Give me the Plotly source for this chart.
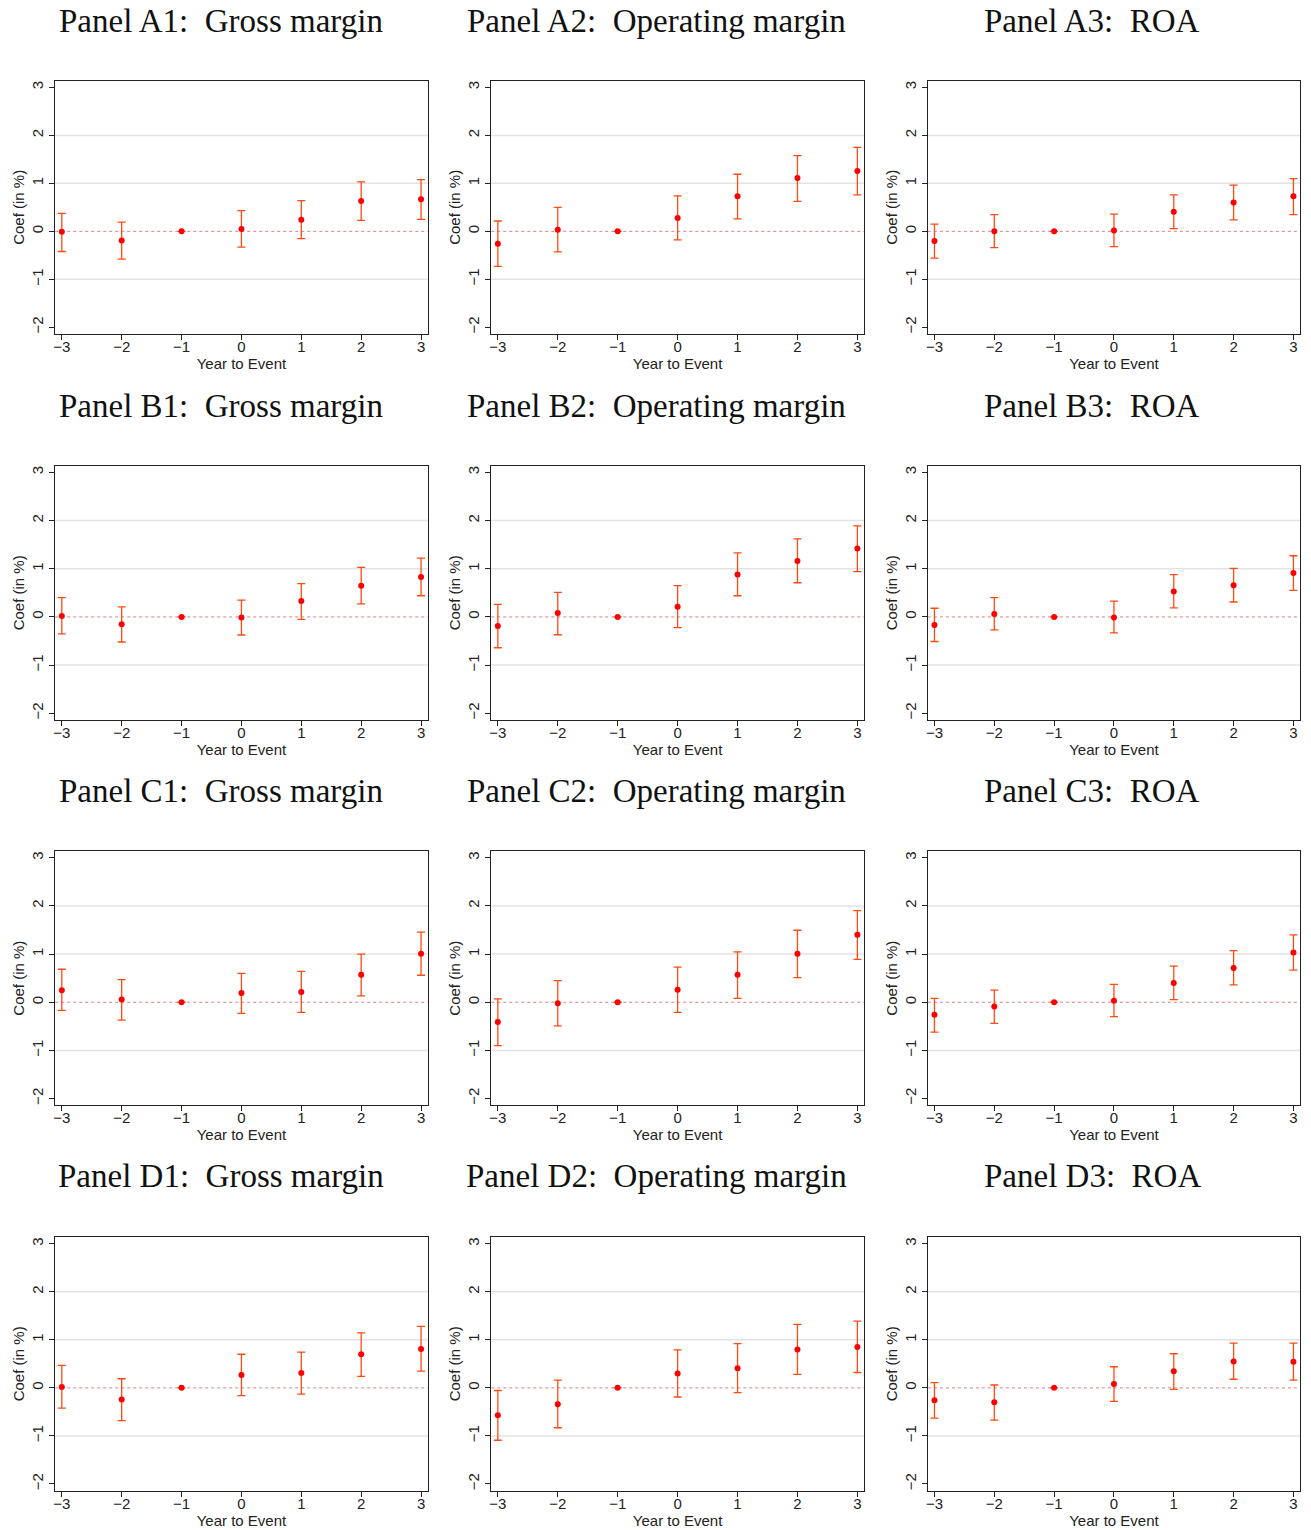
import plotly.graph_objects as go

# ---------------- data ----------------
years = [-3, -2, -1, 0, 1, 2, 3]
y_ticks = [-2, -1, 0, 1, 2, 3]
x_ticks = [-3, -2, -1, 0, 1, 2, 3]

titles = [
    "Panel A1:  Gross margin", "Panel A2:  Operating margin", "Panel A3:  ROA",
    "Panel B1:  Gross margin", "Panel B2:  Operating margin", "Panel B3:  ROA",
    "Panel C1:  Gross margin", "Panel C2:  Operating margin", "Panel C3:  ROA",
    "Panel D1:  Gross margin", "Panel D2:  Operating margin", "Panel D3:  ROA",
]

A1_coef = [-0.01, -0.19, 0.0, 0.05, 0.24, 0.63, 0.67]
A1_lo = [-0.42, -0.58, 0.0, -0.33, -0.15, 0.23, 0.25]
A1_hi = [0.375, 0.19, 0.0, 0.43, 0.64, 1.03, 1.08]

A2_coef = [-0.26, 0.035, 0.0, 0.28, 0.73, 1.11, 1.26]
A2_lo = [-0.73, -0.43, 0.0, -0.18, 0.26, 0.625, 0.76]
A2_hi = [0.215, 0.50, 0.0, 0.74, 1.19, 1.58, 1.75]

A3_coef = [-0.20, 0.0, 0.0, 0.02, 0.41, 0.60, 0.73]
A3_lo = [-0.56, -0.34, 0.0, -0.32, 0.055, 0.24, 0.35]
A3_hi = [0.15, 0.35, 0.0, 0.36, 0.76, 0.965, 1.10]

B1_coef = [0.02, -0.15, 0.0, -0.01, 0.33, 0.65, 0.83]
B1_lo = [-0.35, -0.52, 0.0, -0.375, -0.05, 0.27, 0.44]
B1_hi = [0.40, 0.21, 0.0, 0.35, 0.69, 1.03, 1.22]

B2_coef = [-0.19, 0.08, 0.0, 0.21, 0.88, 1.16, 1.42]
B2_lo = [-0.64, -0.37, 0.0, -0.22, 0.44, 0.71, 0.94]
B2_hi = [0.26, 0.51, 0.0, 0.65, 1.33, 1.62, 1.89]

B3_coef = [-0.17, 0.06, 0.0, -0.01, 0.53, 0.66, 0.91]
B3_lo = [-0.51, -0.27, 0.0, -0.33, 0.19, 0.31, 0.55]
B3_hi = [0.18, 0.40, 0.0, 0.33, 0.88, 1.01, 1.27]

C1_coef = [0.25, 0.055, 0.0, 0.19, 0.21, 0.57, 1.005]
C1_lo = [-0.17, -0.37, 0.0, -0.23, -0.21, 0.13, 0.56]
C1_hi = [0.685, 0.47, 0.0, 0.60, 0.64, 1.0, 1.455]

C2_coef = [-0.41, -0.02, 0.0, 0.26, 0.57, 1.005, 1.40]
C2_lo = [-0.90, -0.49, 0.0, -0.21, 0.08, 0.51, 0.89]
C2_hi = [0.07, 0.45, 0.0, 0.73, 1.045, 1.495, 1.90]

C3_coef = [-0.26, -0.09, 0.0, 0.03, 0.40, 0.71, 1.03]
C3_lo = [-0.62, -0.44, 0.0, -0.30, 0.055, 0.36, 0.665]
C3_hi = [0.08, 0.25, 0.0, 0.37, 0.75, 1.07, 1.40]

D1_coef = [0.02, -0.24, 0.0, 0.27, 0.31, 0.70, 0.81]
D1_lo = [-0.42, -0.68, 0.0, -0.16, -0.13, 0.24, 0.35]
D1_hi = [0.47, 0.19, 0.0, 0.70, 0.745, 1.145, 1.28]

D2_coef = [-0.57, -0.34, 0.0, 0.30, 0.41, 0.80, 0.85]
D2_lo = [-1.09, -0.83, 0.0, -0.19, -0.10, 0.28, 0.32]
D2_hi = [-0.055, 0.16, 0.0, 0.79, 0.92, 1.32, 1.39]

D3_coef = [-0.26, -0.30, 0.0, 0.08, 0.345, 0.55, 0.545]
D3_lo = [-0.63, -0.67, 0.0, -0.28, -0.03, 0.18, 0.16]
D3_hi = [0.11, 0.06, 0.0, 0.44, 0.71, 0.93, 0.93]

panels = [
    (A1_coef, A1_lo, A1_hi), (A2_coef, A2_lo, A2_hi), (A3_coef, A3_lo, A3_hi),
    (B1_coef, B1_lo, B1_hi), (B2_coef, B2_lo, B2_hi), (B3_coef, B3_lo, B3_hi),
    (C1_coef, C1_lo, C1_hi), (C2_coef, C2_lo, C2_hi), (C3_coef, C3_lo, C3_hi),
    (D1_coef, D1_lo, D1_hi), (D2_coef, D2_lo, D2_hi), (D3_coef, D3_lo, D3_hi),
]

# ---------------- layout constants ----------------
W, H = 1311, 1530
col_px = [(53.3, 426.3), (490.0, 863.3), (927.3, 1300.0)]
row_px = [(80.7, 334.0), (465.7, 720.0), (851.0, 1105.3), (1237.0, 1490.7)]
title_cx = [219, 656, 1092]
title_cy = [21, 406, 791, 1176]

BAR_COLOR = "#FF4A12"
DOT_COLOR = "#FF0000"
TICK_FONT = dict(family="Liberation Sans, Arial, sans-serif", size=15, color="#222222")


def minus(v):
    return str(v).replace("-", "\u2212")


fig = go.Figure()
layout_axes = {}
shapes = []
annotations = []

for i, (coef, lo, hi) in enumerate(panels):
    r, c = divmod(i, 3)
    n = i + 1
    xa = "x" if n == 1 else f"x{n}"
    ya = "y" if n == 1 else f"y{n}"
    fig.add_trace(go.Scatter(
        x=years, y=coef, mode="markers", xaxis=xa, yaxis=ya,
        marker=dict(color=DOT_COLOR, size=6),
        error_y=dict(type="data", symmetric=False,
                     array=[h - k for h, k in zip(hi, coef)],
                     arrayminus=[k - l for k, l in zip(coef, lo)],
                     color=BAR_COLOR, thickness=1.3, width=4),
        showlegend=False, cliponaxis=False,
    ))
    x0, x1 = col_px[c]
    t, b = row_px[r]
    xkey = "xaxis" if n == 1 else f"xaxis{n}"
    ykey = "yaxis" if n == 1 else f"yaxis{n}"
    layout_axes[xkey] = dict(
        domain=[x0 / W, x1 / W], anchor=ya, range=[-3.11, 3.11],
        tickmode="array", tickvals=x_ticks, ticktext=[minus(v) for v in x_ticks],
        ticks="outside", ticklen=5, tickwidth=1, tickcolor="#222222",
        ticklabelstandoff=-6,
        showline=True, linecolor="#222222", linewidth=1.3, mirror=True,
        showgrid=False, zeroline=False, tickfont=TICK_FONT,
        title=dict(text="Year to Event", font=TICK_FONT, standoff=0),
    )
    layout_axes[ykey] = dict(
        domain=[1 - b / H, 1 - t / H], anchor=xa, range=[-2.14, 3.14],
        tickmode="array", tickvals=y_ticks, ticktext=[minus(v) for v in y_ticks],
        tickangle=-90,
        ticks="outside", ticklen=5, tickwidth=1, tickcolor="#222222",
        showline=True, linecolor="#222222", linewidth=1.3, mirror=True,
        showgrid=False, zeroline=False, tickfont=TICK_FONT,
        title=dict(text="Coef (in %)", font=TICK_FONT, standoff=0),
    )
    for g in [-1, 1, 2]:
        shapes.append(dict(type="line", layer="below",
                           xref=f"{xa} domain", x0=0, x1=1, yref=ya, y0=g, y1=g,
                           line=dict(color="#E3E3E3", width=1.5)))
    shapes.append(dict(type="line", layer="below",
                       xref=f"{xa} domain", x0=0, x1=1, yref=ya, y0=0, y1=0,
                       line=dict(color="#D9808A", width=1, dash="dot")))
    annotations.append(dict(
        text=titles[i], xref="paper", yref="paper",
        x=title_cx[c] / W, y=1 - title_cy[r] / H, xanchor="center", yanchor="middle",
        showarrow=False,
        font=dict(family="Liberation Serif, Times New Roman, serif", size=33, color="#111111"),
    ))

fig.update_layout(
    width=W, height=H, margin=dict(l=0, r=0, t=0, b=0),
    paper_bgcolor="white", plot_bgcolor="white",
    shapes=shapes, annotations=annotations, **layout_axes,
)

fig.write_html("out.html", config={"displayModeBar": False},
               post_script="document.body.style.margin='0';")
